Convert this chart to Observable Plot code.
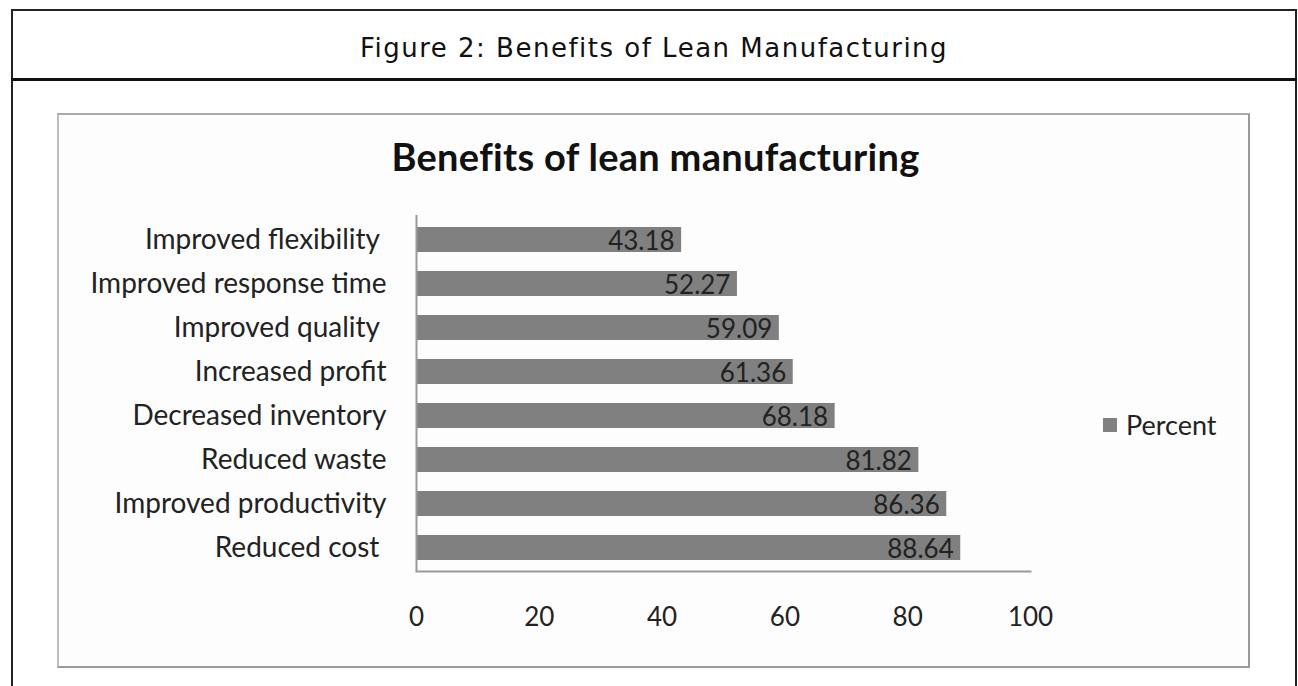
<!DOCTYPE html>
<html>
<head>
<meta charset="utf-8">
<script src="https://cdn.jsdelivr.net/npm/d3@7"></script>
<script src="https://cdn.jsdelivr.net/npm/@observablehq/plot@0.6"></script>
<style>
  html, body { margin: 0; padding: 0; background: #fff; width: 1298px; height: 686px; overflow: hidden; }
  #outer { position: absolute; left: 11px; top: 9px; width: 1286px; height: 700px; border: 2px solid #222; border-bottom: none; box-sizing: border-box; }
  #headline { position: absolute; left: 11px; top: 78px; width: 1286px; height: 0; border-top: 3px solid #111; }
  #header { position: absolute; left: 11px; top: 33px; width: 1286px; text-align: center; font-family: "DejaVu Sans", sans-serif; font-size: 26px; letter-spacing: 1.5px; color: #111; }
  #box { position: absolute; left: 57px; top: 113px; width: 1193px; height: 555px; border: 2px solid #999; border-top-color: #aaa; border-left-color: #bbb; box-sizing: border-box; background: #fdfdfd; }
  #title { position: absolute; left: 57px; top: 133px; width: 1197px; text-align: center; font-family: Lato, sans-serif; font-weight: bold; font-size: 38px; letter-spacing: 0.3px; color: #111; }
  #chart { position: absolute; left: 57px; top: 113px; }
  #legend { position: absolute; left: 1103px; top: 408px; font-family: Lato, sans-serif; font-size: 27px; color: #222; display: flex; align-items: center; }
  #legend .sw { width: 14px; height: 14px; background: #808080; margin-right: 9px; }
</style>
</head>
<body>
<div id="outer"></div>
<div id="headline"></div>
<div id="header">Figure 2: Benefits of Lean Manufacturing</div>
<div id="box"></div>
<div id="title">Benefits of lean manufacturing</div>
<div id="chart"></div>
<div id="legend"><div class="sw"></div><span>Percent</span></div>
<script>
const categories = [
  "Improved flexibility",
  "Improved response time",
  "Improved quality",
  "Increased profit",
  "Decreased inventory",
  "Reduced waste",
  "Improved productivity",
  "Reduced cost"
];
const percents = [43.18, 52.27, 59.09, 61.36, 68.18, 81.82, 86.36, 88.64];
const xTicks = [0, 20, 40, 60, 80, 100];
const paddedLabels = ["Improved flexibility", "Improved quality", "Reduced cost"];

const data = categories.map((c, i) => ({category: c, value: percents[i]}));

const chart = Plot.plot({
  width: 1192,
  height: 554,
  marginLeft: 359,
  marginRight: 219,
  marginTop: 102,
  marginBottom: 96,
  style: {background: "transparent", fontFamily: "Lato, sans-serif", fontSize: "26px", color: "#222"},
  x: {domain: [0, 100], ticks: xTicks, label: null},
  y: {domain: categories, paddingInner: 0.44, paddingOuter: 0.2, label: null},
  marks: [
    Plot.barX(data, {x: "value", y: "category", fill: "#808080"}),
    Plot.text(data, {x: "value", y: "category", text: d => d.value.toFixed(2), textAnchor: "end", dx: -7, dy: 2, fill: "#222", fontSize: 26}),
    Plot.ruleX([0], {stroke: "#999", strokeWidth: 2}),
    Plot.frame({anchor: "bottom", stroke: "#999", strokeWidth: 2}),
    Plot.axisX({ticks: xTicks, tickSize: 0, tickPadding: 36, fontSize: 26, label: null, fill: "#222"}),
    Plot.axisY({tickSize: 0, tickPadding: 30, fontSize: 28, label: null, fill: "#222",
      tickFormat: d => paddedLabels.includes(d) ? d + "\u00a0" : d})
  ]
});
document.getElementById("chart").appendChild(chart);
</script>
</body>
</html>
